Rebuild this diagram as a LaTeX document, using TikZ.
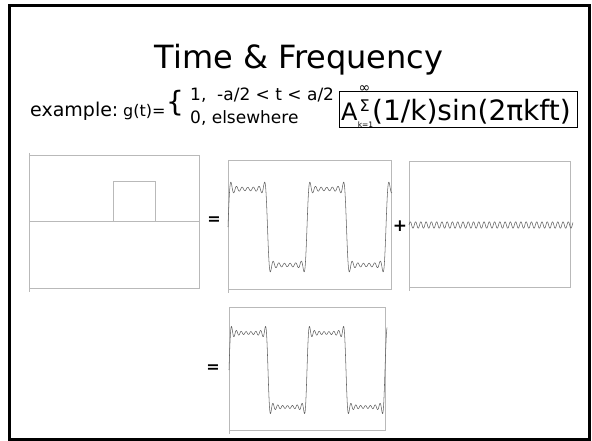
\documentclass[tikz,border=0pt]{standalone}
\usepackage{fontspec}
\setmainfont{DejaVu Sans}
\newcommand\myfs[1]{\fontsize{#1}{#1}\selectfont}
\definecolor{boxgray}{RGB}{185,185,185}
\definecolor{wavegray}{RGB}{100,100,100}
\begin{document}
\begin{tikzpicture}[x=1pt,y=-1pt,
  txt/.style={inner sep=0pt, anchor=base west},
  ctxt/.style={inner sep=0pt, anchor=base},
  panel/.style={draw=boxgray, line width=0.8pt},
  wave/.style={draw=wavegray, line width=0.55pt, line join=round},
  op/.style={inner sep=0pt, font=\bfseries},
  declare function={
    sqa(\t)=sin(\t)+sin(3*\t)/3+sin(5*\t)/5+sin(7*\t)/7+sin(9*\t)/9+sin(11*\t)/11+sin(13*\t)/13;
    sqb(\t)=sqa(\t)+sin(15*\t)/15;}]
\useasboundingbox (0,0) rectangle (592,441);
% frame
\draw[line width=3pt] (9.5,5.5) rectangle (589.5,439.5);
% title
\node[ctxt] (title) at (299,69) {\myfs{32}Time \& Frequency};
% example line
\node[txt] (ex) at (30,117) {\myfs{19}example:};
\node[txt] (g) at (123,117) {\myfs{16}g(t)=};
\node[txt] (br) at (166,112) {\myfs{28}\{};
\node[txt] (l1) at (190,101) {\myfs{17}1,\ \ -a/2 < t < a/2};
\node[txt] (l2) at (190,124) {\myfs{17}0, elsewhere};
% sum box
\node[draw, line width=0.8pt, inner sep=0pt, minimum width=238pt, minimum height=36pt, anchor=north west] (sumbox) at (339,91) {};
\node[txt] (A) at (341,121) {\myfs{24}A};
\node[txt] (sig) at (359.5,112) {\myfs{16}Σ};
\node[ctxt] (inf) at (364.5,93) {\myfs{14}∞};
\node[ctxt] (k1) at (365.5,127.5) {\myfs{7.5}k=1};
\node[txt] (sinus) at (372,121) {\myfs{28}(1/k)sin(2πkft)};
% panel 1: rectangle pulse
\draw[panel] (29,155) rectangle (199,288);
\draw[panel] (29,153) -- (29,292);
\draw[panel] (29,221) -- (199,221);
\draw[panel] (113,221) -- (113,181) -- (155,181) -- (155,221);
\node[op] (eq1) at (214,221) {\myfs{16}=};
% panel 2: partial sum
\draw[panel] (228,160) rectangle (391,289);
\draw[panel] (228,289) -- (228,293);
\draw[wave] plot[domain=0:747.3, samples=600] ({228+\x/4.557},{227-48.38*sqa(\x)});
\node[op] (plus) at (400,226) {\myfs{17}+};
% panel 3: next harmonic
\draw[panel] (409,161) rectangle (570,287);
\draw[panel] (409,287) -- (409,291);
\draw[wave] plot[domain=0:747.3, samples=500] ({409+\x/4.557},{225-48.38*sin(15*\x)/15});
% panel 4: result
\draw[panel] (229,307) rectangle (385,430);
\draw[panel] (229,430) -- (229,434);
\draw[wave] plot[domain=0:729.2, samples=600] ({229+\x/4.6154},{370-47.1*sqb(\x)});
\node[op] (eq2) at (213,369) {\myfs{16}=};
\end{tikzpicture}
\end{document}
